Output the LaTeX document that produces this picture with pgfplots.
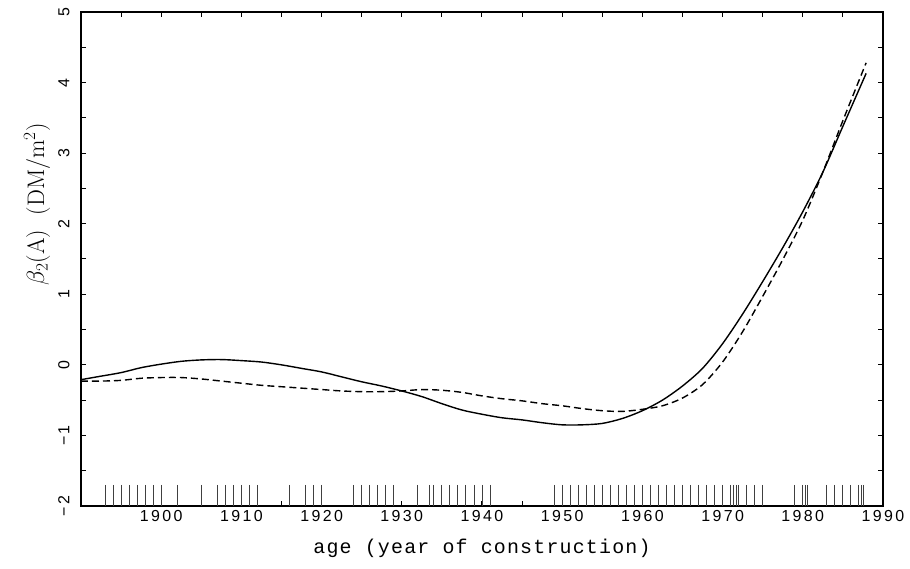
\documentclass[border=0pt]{standalone}
\usepackage{fontspec}
\usepackage{pgfplots}
\pgfplotsset{compat=1.18}
\newfontfamily\ticksf[LetterSpace=15]{Liberation Sans}
\newfontfamily\labtt[LetterSpace=6]{Liberation Mono}

\begin{document}
\begin{tikzpicture}
\begin{axis}[
  scale only axis,
  width=802bp, height=494bp,
  xmin=1890, xmax=1990,
  ymin=-2, ymax=5,
  xtick={1900,1910,...,1990},
  minor xtick={1895,1905,...,1985},
  ytick={-2,-1,...,5},
  yticklabels={−2,−1,0,1,2,3,4,5},
  minor ytick={-1.5,-0.5,...,4.5},
  tick pos=both,
  tick align=inside,
  major tick length=5bp,
  minor tick length=5bp,
  tick style={line width=1pt, black},
  axis line style={line width=1.6pt},
  /pgf/number format/assume math mode=true,
  /pgf/number format/1000 sep={},
  tick label style={font=\ticksf\fontsize{16}{16}\selectfont},
  yticklabel style={rotate=90, anchor=south},
  yticklabel shift=8bp,
  xticklabel shift=1bp,
  xlabel={age (year of construction)},
  xlabel style={font=\labtt\fontsize{20}{20}\selectfont,
    at={(axis description cs:0.5,-0.085)}, anchor=center},
  ylabel={$\beta_2$(A)\ \ (DM/m$^2$)},
  ylabel style={font=\fontsize{24}{24}\selectfont,
    at={(axis description cs:-0.0549,0.611)}, anchor=center},
]

% rug of construction years
\addplot[only marks, mark=|, mark size=10.5bp,
  mark options={black!75, line width=0.9pt}] coordinates {
  (1893,-1.85) (1894,-1.85) (1895,-1.85) (1896,-1.85) (1897,-1.85)
  (1898,-1.85) (1899,-1.85) (1900,-1.85) (1902,-1.85) (1905,-1.85)
  (1907,-1.85) (1908,-1.85) (1909,-1.85) (1910,-1.85) (1911,-1.85)
  (1912,-1.85) (1916,-1.85) (1918,-1.85) (1919,-1.85) (1920,-1.85)
  (1924,-1.85) (1925,-1.85) (1926,-1.85) (1927,-1.85) (1928,-1.85)
  (1929,-1.85) (1932,-1.85) (1933.5,-1.85) (1934,-1.85) (1935,-1.85)
  (1936,-1.85) (1937,-1.85) (1938,-1.85) (1939,-1.85) (1940,-1.85)
  (1941,-1.85) (1949,-1.85) (1950,-1.85) (1951,-1.85) (1952,-1.85)
  (1953,-1.85) (1954,-1.85) (1955,-1.85) (1956,-1.85) (1957,-1.85)
  (1958,-1.85) (1959,-1.85) (1960,-1.85) (1961,-1.85) (1962,-1.85)
  (1963,-1.85) (1964,-1.85) (1965,-1.85) (1966,-1.85) (1967,-1.85)
  (1968,-1.85) (1969,-1.85) (1970,-1.85) (1971,-1.85) (1971.4,-1.85)
  (1971.7,-1.85) (1972,-1.85) (1973,-1.85) (1974,-1.85) (1975,-1.85)
  (1979,-1.85) (1980,-1.85) (1980.3,-1.85) (1980.6,-1.85) (1983,-1.85)
  (1984,-1.85) (1985,-1.85) (1986,-1.85) (1987,-1.85) (1987.3,-1.85)
  (1987.6,-1.85)
};

% solid estimate
\addplot[black, line width=1.4bp, smooth] coordinates {
  (1890,-0.21) (1892.5,-0.16) (1895,-0.11) (1897.5,-0.04) (1900,0.01)
  (1902.5,0.05) (1905,0.07) (1907.5,0.075) (1910,0.06) (1912.5,0.04)
  (1915,0.0) (1917.5,-0.05) (1920,-0.10) (1922.5,-0.17) (1925,-0.24)
  (1927.5,-0.30) (1930,-0.37) (1932.5,-0.45) (1935,-0.55) (1937.5,-0.64)
  (1940,-0.70) (1942.5,-0.75) (1945,-0.78) (1947.5,-0.82) (1950,-0.85)
  (1952.5,-0.85) (1955,-0.83) (1957.5,-0.76) (1960,-0.65) (1962.5,-0.50)
  (1965,-0.30) (1967.5,-0.05) (1970,0.30) (1972.5,0.72) (1975,1.18)
  (1977.5,1.66) (1980,2.17) (1982.5,2.73) (1985,3.38) (1987.9,4.13)
};

% dashed estimate
\addplot[black, line width=1.4bp, smooth, dash pattern=on 7bp off 4bp] coordinates {
  (1890,-0.23) (1892.5,-0.23) (1895,-0.22) (1897.5,-0.19) (1900,-0.18)
  (1902.5,-0.18) (1905,-0.20) (1907.5,-0.23) (1910,-0.26) (1912.5,-0.29)
  (1915,-0.31) (1917.5,-0.33) (1920,-0.35) (1922.5,-0.37) (1925,-0.38)
  (1927.5,-0.38) (1930,-0.37) (1932.5,-0.35) (1935,-0.36) (1937.5,-0.39)
  (1940,-0.44) (1942.5,-0.48) (1945,-0.51) (1947.5,-0.55) (1950,-0.58)
  (1952.5,-0.62) (1955,-0.65) (1957.5,-0.66) (1960,-0.63) (1962.5,-0.58)
  (1965,-0.47) (1967.5,-0.28) (1970,0.04) (1972.5,0.47) (1975,0.97)
  (1977.5,1.49) (1980,2.05) (1982.5,2.73) (1985,3.46) (1987.9,4.28)
};

\coordinate (bbsw) at (axis description cs:-0.101,-0.1275);
\coordinate (bbne) at (axis description cs:1.0337,1.0243);
\end{axis}
\pgfresetboundingbox
\path[use as bounding box] (bbsw) rectangle (bbne);
\end{tikzpicture}
\end{document}
